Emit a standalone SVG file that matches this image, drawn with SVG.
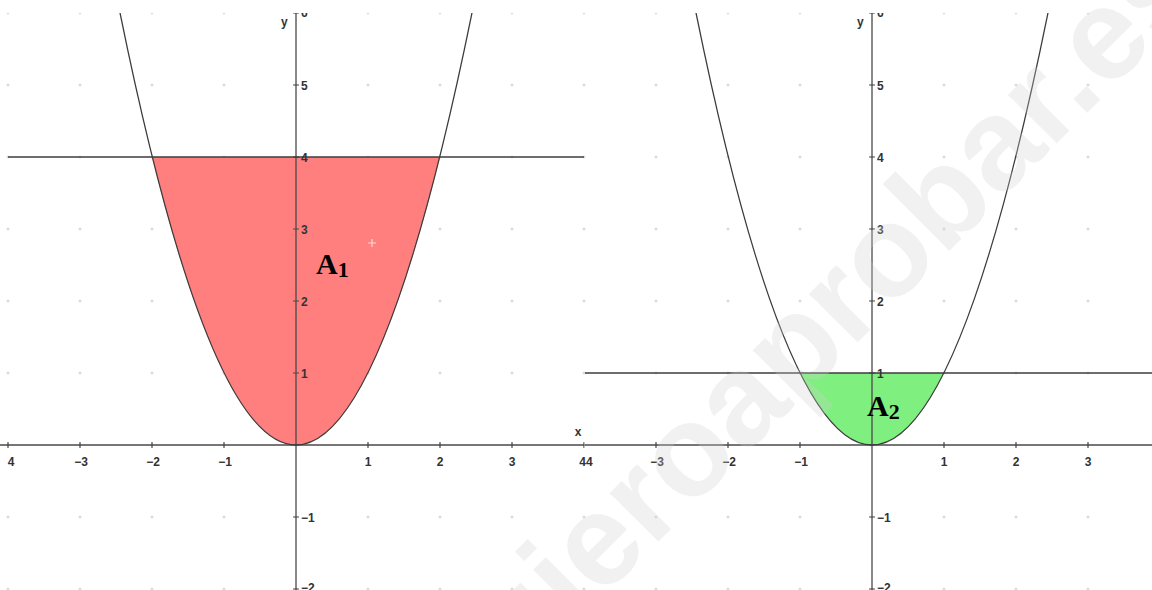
<svg xmlns="http://www.w3.org/2000/svg" width="1152" height="590" viewBox="0 0 1152 590">
  <style>
    .axis { stroke: #4a4a4a; stroke-width: 1.3; fill: none; }
    .tick { stroke: #4a4a4a; stroke-width: 1.2; }
    .curve { stroke: #3c3c3c; stroke-width: 1.3; fill: none; }
    .hline { stroke: #3c3c3c; stroke-width: 1.6; }
    .lbl { font-family: "Liberation Sans", Arial, sans-serif; font-weight: bold; font-size: 12px; fill: #333; }
    .xl { text-anchor: middle; }
    .area { font-family: "Liberation Serif", "Times New Roman", serif; font-weight: bold; fill: #000; }
    .wm { font-family: "Liberation Sans", Arial, sans-serif; font-weight: bold; font-size: 130px; fill: #cfcfcf; opacity: 0.28; }
  </style>
  <defs>
    <pattern id="grid" patternUnits="userSpaceOnUse" x="260" y="409" width="72" height="72">
      <path d="M34.5,36 h3 M36,34.5 v3" stroke="#cfcfcf" stroke-width="1"/>
    </pattern>
    <clipPath id="clipL"><rect x="0" y="13" width="584.5" height="577"/></clipPath>
    <clipPath id="clipR"><rect x="584.5" y="13" width="567.5" height="577"/></clipPath>
  </defs>
  <rect width="1152" height="590" fill="#fff"/>
  <rect x="0" y="13" width="1152" height="577" fill="url(#grid)"/>

  <g id="left-graph" clip-path="url(#clipL)">
    <path id="area-A1" d="M152,157 Q296,733 440,157 Z" fill="#ff7f7f"/>
    <line class="axis" x1="0" y1="445" x2="584.5" y2="445"/>
    <line class="axis" x1="296" y1="13" x2="296" y2="590"/>
    <g class="tick">
      <path d="M8,442 v6 M80,442 v6 M152,442 v6 M224,442 v6 M368,442 v6 M440,442 v6 M512,442 v6 M584,442 v6"/>
      <path d="M293,13 h6 M293,85 h6 M293,157 h6 M293,229 h6 M293,301 h6 M293,373 h6 M293,517 h6 M293,589 h6"/>
    </g>
    <path class="curve" d="M120,12.8 Q296,877.2 472,12.8"/>
    <line class="hline" x1="8" y1="157" x2="584" y2="157"/>
    <path d="M368,243 h8 M372,239 v8" stroke="#ffd8d8" stroke-width="1.2"/>
    <g class="lbl">
      <text class="xl" x="11" y="466">4</text>
      <text class="xl" x="81" y="466">−3</text>
      <text class="xl" x="153" y="466">−2</text>
      <text class="xl" x="225" y="466">−1</text>
      <text class="xl" x="368" y="466">1</text>
      <text class="xl" x="440" y="466">2</text>
      <text class="xl" x="512" y="466">3</text>
      <text x="301" y="17">6</text>
      <text x="301" y="90">5</text>
      <text x="301" y="162">4</text>
      <text x="301" y="234">3</text>
      <text x="301" y="306">2</text>
      <text x="301" y="378">1</text>
      <text x="301" y="522">−1</text>
      <text x="301" y="592">−2</text>
      <text x="281" y="26">y</text>
      <text class="xl" x="578" y="436">x</text>
    </g>
    <text class="area" x="316" y="274" font-size="30">A<tspan font-size="22" dy="3">1</tspan></text>
  </g>

  <g id="right-graph" clip-path="url(#clipR)">
    <path id="area-A2" d="M800,373 Q872,517 944,373 Z" fill="#7fef7f"/>
    <line class="axis" x1="584.5" y1="445" x2="1152" y2="445"/>
    <line class="axis" x1="872" y1="13" x2="872" y2="590"/>
    <g class="tick">
      <path d="M656,442 v6 M728,442 v6 M800,442 v6 M944,442 v6 M1016,442 v6 M1088,442 v6"/>
      <path d="M869,13 h6 M869,85 h6 M869,157 h6 M869,229 h6 M869,301 h6 M869,373 h6 M869,517 h6 M869,589 h6"/>
    </g>
    <path class="curve" d="M696,12.8 Q872,877.2 1048,12.8"/>
    <line class="hline" x1="585" y1="373" x2="1152" y2="373"/>
    <g class="lbl">
      <text class="xl" x="657" y="466">−3</text>
      <text class="xl" x="729" y="466">−2</text>
      <text class="xl" x="801" y="466">−1</text>
      <text class="xl" x="944" y="466">1</text>
      <text class="xl" x="1016" y="466">2</text>
      <text class="xl" x="1088" y="466">3</text>
      <text x="877" y="17">6</text>
      <text x="877" y="90">5</text>
      <text x="877" y="162">4</text>
      <text x="877" y="234">3</text>
      <text x="877" y="306">2</text>
      <text x="877" y="378">1</text>
      <text x="877" y="522">−1</text>
      <text x="877" y="592">−2</text>
      <text x="857" y="26">y</text>
    </g>
    <text class="area" x="867" y="416" font-size="30">A<tspan font-size="22" dy="3">2</tspan></text>
  </g>

  <g id="shared-label" class="lbl">
    <text class="xl" x="586" y="466">44</text>
  </g>

  <g id="watermark">
    <text class="wm" transform="translate(463,737) rotate(-45)">quieroaprobar.es</text>
  </g>
</svg>
